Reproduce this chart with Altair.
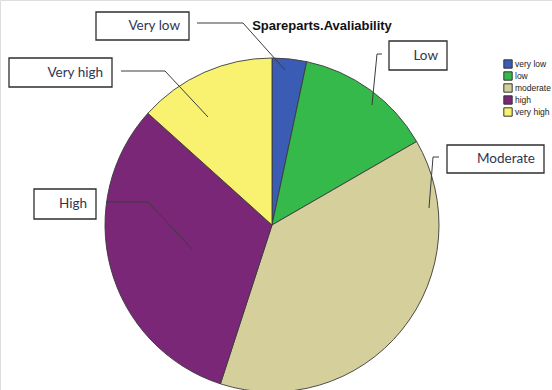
import altair as alt
import pandas as pd

# ---- data ----
categories = ["very low", "low", "moderate", "high", "very high"]
counts = [2, 8, 23, 19, 8]
colors = ["#3a5cb4", "#35b94b", "#d4cf9b", "#7b2777", "#f8f270"]
callout_labels = ["Very low", "Low", "Moderate", "High", "Very high"]
title_text = "Spareparts.Avaliability"

# ---- layout (pixel positions for callouts) ----
W, H = 552, 390
CX, CY, R = 272, 225, 167
boxes = {  # x0, x1, y0, y1
    "Very low": (96, 189, 12, 40),
    "Low": (389, 447, 41, 70),
    "Moderate": (447, 544, 145, 173),
    "High": (34, 96, 189, 219),
    "Very high": (9, 112, 58, 87),
}
leaders = {
    "Very low": [(197, 23), (243, 23), (285, 70)],
    "Low": [(382, 54), (377, 54), (372, 105)],
    "Moderate": [(439, 157), (433, 157), (429, 208)],
    "High": [(106, 202), (148, 202), (192, 249)],
    "Very high": [(121, 71), (165, 71), (208, 117)],
}

pie_df = pd.DataFrame({"category": categories, "count": counts,
                       "idx": list(range(len(categories)))})

box_df = pd.DataFrame([
    {"label": k, "x0": v[0], "x1": v[1], "y0": v[2], "y1": v[3],
     "tx": v[1] - 9, "ty": (v[2] + v[3]) / 2}
    for k, v in boxes.items()
])
line_rows = []
for k, pts in leaders.items():
    for i, (px, py) in enumerate(pts):
        line_rows.append({"label": k, "i": i, "x": px, "y": py})
line_df = pd.DataFrame(line_rows)

xs = alt.Scale(domain=[0, W], range=[0, W])
ys = alt.Scale(domain=[0, H], range=[0, H])

pie = alt.Chart(pie_df).mark_arc(radius=R, stroke="#3a3a3a", strokeWidth=0.9).encode(
    theta=alt.Theta("count:Q", stack=True),
    order=alt.Order("idx:Q"),
    color=alt.Color(
        "category:N",
        scale=alt.Scale(domain=categories, range=colors),
        legend=alt.Legend(
            orient="none", legendX=503, legendY=59, title=None,
            symbolType="square", symbolSize=70, symbolStrokeColor="#333333",
            symbolStrokeWidth=1, labelFont="Liberation Sans", labelFontSize=8.5,
            labelColor="#222222", rowPadding=-4, labelOffset=2, padding=0,
        ),
    ),
    x=alt.value(CX),
    y=alt.value(CY),
)

lines = alt.Chart(line_df).mark_line(color="#3c3c3c", strokeWidth=1).encode(
    x=alt.X("x:Q", scale=xs, axis=None),
    y=alt.Y("y:Q", scale=ys, axis=None),
    detail="label:N",
    order="i:Q",
)

rects = alt.Chart(box_df).mark_rect(fill="white", stroke="#2e2e2e", strokeWidth=1.3).encode(
    x=alt.X("x0:Q", scale=xs, axis=None), x2="x1:Q",
    y=alt.Y("y0:Q", scale=ys, axis=None), y2="y1:Q",
)

texts = alt.Chart(box_df).mark_text(
    align="right", baseline="middle", font="Lato", fontSize=13.5, color="#2f3650"
).encode(
    x=alt.X("tx:Q", scale=xs, axis=None),
    y=alt.Y("ty:Q", scale=ys, axis=None),
    text="label:N",
)

title = alt.Chart(pd.DataFrame({"t": [title_text]})).mark_text(
    align="center", baseline="middle", font="Liberation Sans", fontSize=13,
    fontWeight="bold", color="#111111"
).encode(x=alt.value(322), y=alt.value(26), text="t:N")

chart = alt.layer(pie, lines, rects, texts, title).properties(
    width=W, height=H, autosize=alt.AutoSizeParams(type="none"), padding=0
).configure_view(stroke=None).configure(background="white")

chart.save("out.html", embed_options={"renderer": "svg", "actions": False})
